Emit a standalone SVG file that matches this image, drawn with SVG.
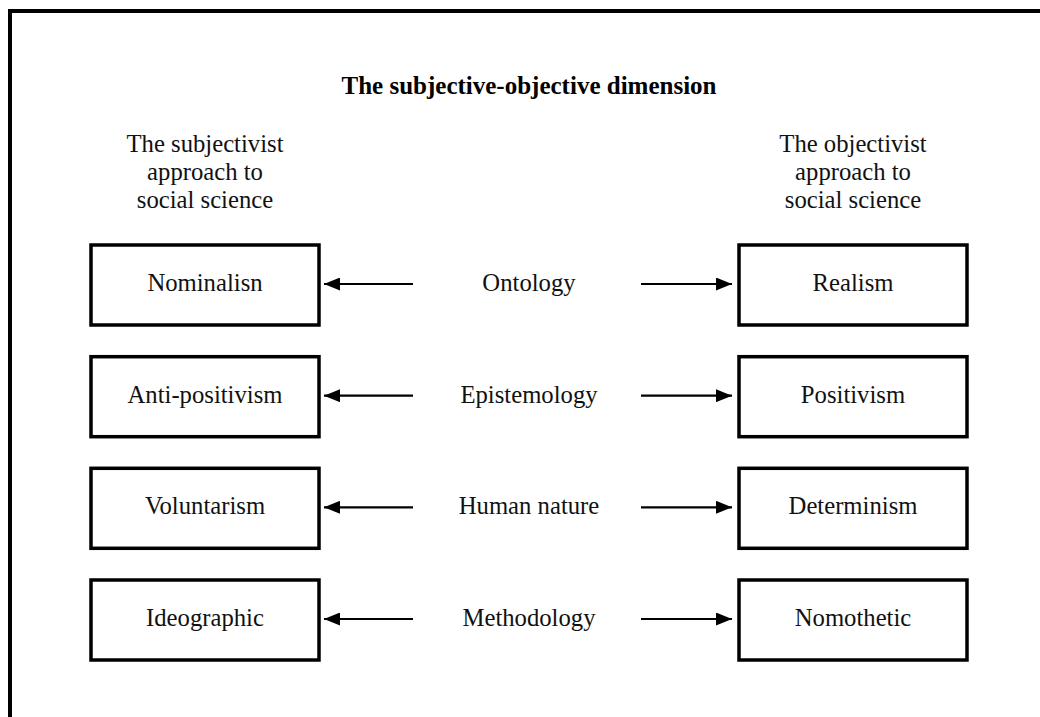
<svg xmlns="http://www.w3.org/2000/svg" width="1040" height="717" viewBox="0 0 1040 717">
  <style>
    .frame { fill: none; stroke: #000; stroke-width: 4; }
    .box { fill: #fff; stroke: #000; stroke-width: 3.5; }
    .lbl { font-family: "Liberation Serif", "Times New Roman", serif; font-size: 24.7px; fill: #111; text-anchor: middle; }
    .title { font-family: "Liberation Serif", "Times New Roman", serif; font-size: 25px; font-weight: bold; fill: #000; text-anchor: middle; }
    .conn { stroke: #000; stroke-width: 2.2; fill: none; }
  </style>
  <defs>
    <marker id="head" viewBox="0 0 16 13" refX="16" refY="6.5" markerWidth="16" markerHeight="13" markerUnits="userSpaceOnUse" orient="auto">
      <path d="M0,0 L16,6.5 L0,13 Z" fill="#000"/>
    </marker>
  </defs>
  <rect width="1040" height="717" fill="#fff"/>
  <!-- outer frame, open at right and bottom -->
  <rect class="frame" x="10" y="11" width="1100" height="800"/>

  <text class="title" x="529" y="94">The subjective-objective dimension</text>

  <g id="subjectivist-heading">
    <text class="lbl" x="205" y="152">The subjectivist</text>
    <text class="lbl" x="205" y="180">approach to</text>
    <text class="lbl" x="205" y="208">social science</text>
  </g>
  <g id="objectivist-heading">
    <text class="lbl" x="853" y="152">The objectivist</text>
    <text class="lbl" x="853" y="180">approach to</text>
    <text class="lbl" x="853" y="208">social science</text>
  </g>

  <!-- left column -->
  <g id="nominalism"><rect class="box" x="91" y="245" width="228" height="80"/><text class="lbl" x="205" y="291">Nominalisn</text></g>
  <g id="anti-positivism"><rect class="box" x="91" y="356.7" width="228" height="80"/><text class="lbl" x="205" y="402.7">Anti-positivism</text></g>
  <g id="voluntarism"><rect class="box" x="91" y="468.3" width="228" height="80"/><text class="lbl" x="205" y="514.3">Voluntarism</text></g>
  <g id="ideographic"><rect class="box" x="91" y="580" width="228" height="80"/><text class="lbl" x="205" y="626">Ideographic</text></g>

  <!-- middle labels -->
  <g id="ontology"><text class="lbl" x="529" y="291">Ontology</text></g>
  <g id="epistemology"><text class="lbl" x="529" y="402.7">Epistemology</text></g>
  <g id="human-nature"><text class="lbl" x="529" y="514.3">Human nature</text></g>
  <g id="methodology"><text class="lbl" x="529" y="626">Methodology</text></g>

  <!-- right column -->
  <g id="realism"><rect class="box" x="739" y="245" width="228" height="80"/><text class="lbl" x="853" y="291">Realism</text></g>
  <g id="positivism"><rect class="box" x="739" y="356.7" width="228" height="80"/><text class="lbl" x="853" y="402.7">Positivism</text></g>
  <g id="determinism"><rect class="box" x="739" y="468.3" width="228" height="80"/><text class="lbl" x="853" y="514.3">Determinism</text></g>
  <g id="nomothetic"><rect class="box" x="739" y="580" width="228" height="80"/><text class="lbl" x="853" y="626">Nomothetic</text></g>

  <g id="connectors">
    <line class="conn" x1="413" y1="284" x2="324" y2="284" marker-end="url(#head)"/>
    <line class="conn" x1="641" y1="284" x2="732" y2="284" marker-end="url(#head)"/>
    <line class="conn" x1="413" y1="395.7" x2="324" y2="395.7" marker-end="url(#head)"/>
    <line class="conn" x1="641" y1="395.7" x2="732" y2="395.7" marker-end="url(#head)"/>
    <line class="conn" x1="413" y1="507.3" x2="324" y2="507.3" marker-end="url(#head)"/>
    <line class="conn" x1="641" y1="507.3" x2="732" y2="507.3" marker-end="url(#head)"/>
    <line class="conn" x1="413" y1="619" x2="324" y2="619" marker-end="url(#head)"/>
    <line class="conn" x1="641" y1="619" x2="732" y2="619" marker-end="url(#head)"/>
  </g>
</svg>
